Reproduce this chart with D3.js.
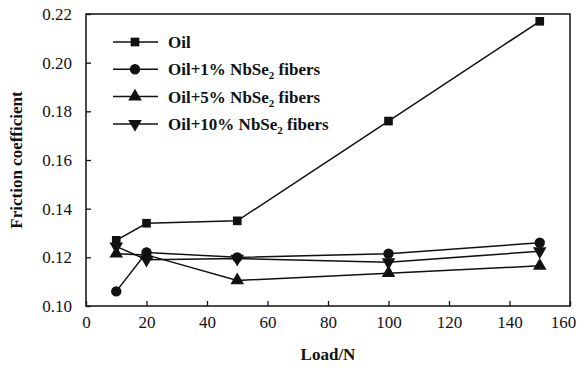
<!DOCTYPE html>
<html><head><meta charset="utf-8">
<script src="https://cdn.jsdelivr.net/npm/d3@7"></script>
<style>
@font-face{font-family:"RefSerif";font-weight:400;src:local("Liberation Serif"),local("LiberationSerif"),local("Tinos"),local("Times New Roman");}
@font-face{font-family:"RefSerif";font-weight:700;src:local("Liberation Serif Bold"),local("LiberationSerif-Bold"),local("Tinos Bold"),local("Times New Roman Bold");}
</style>
</head><body style="margin:0">
<svg id="c" width="577" height="371"></svg>
<script>
const loads = [10, 20, 50, 100, 150];
const oil = [0.127, 0.134, 0.135, 0.176, 0.217];
const oil1 = [0.106, 0.122, 0.120, 0.1215, 0.126];
const oil5 = [0.1215, 0.121, 0.1105, 0.1135, 0.1165];
const oil10 = [0.1245, 0.119, 0.1195, 0.118, 0.1225];
const seriesNames = ["Oil", "Oil+1% NbSe2 fibers", "Oil+5% NbSe2 fibers", "Oil+10% NbSe2 fibers"];
const symbols = ["square", "circle", "triangle", "triangledown"];
const xTicks = [0, 20, 40, 60, 80, 100, 120, 140, 160];
const yTicks = [0.10, 0.12, 0.14, 0.16, 0.18, 0.20, 0.22];

const series = [oil, oil1, oil5, oil10];
const svg = d3.select("#c");
const L = 86, R = 570, T = 14, B = 306;
const x = d3.scaleLinear().domain([0, 160]).range([L, R]);
const y = d3.scaleLinear().domain([0.10, 0.22]).range([B, T]);
const ink = "#111";
const FF = '"Tinos", "RefSerif", "Liberation Serif"';

svg.append("rect").attr("x", L).attr("y", T).attr("width", R - L).attr("height", B - T)
  .attr("fill", "none").attr("stroke", ink).attr("stroke-width", 1.5);

const xAxis = svg.append("g").attr("transform", `translate(0,${B})`)
  .call(d3.axisBottom(x).tickValues(xTicks).tickSizeInner(-5).tickSizeOuter(0).tickPadding(10).tickFormat(d3.format("d")));
const yAxis = svg.append("g").attr("transform", `translate(${L},0)`)
  .call(d3.axisLeft(y).tickValues(yTicks).tickSizeInner(-5).tickSizeOuter(0).tickPadding(14).tickFormat(d3.format(".2f")));
[xAxis, yAxis].forEach(g => {
  g.attr("font-family", FF).attr("font-size", 17);
  g.select(".domain").remove();
  g.selectAll(".tick line").attr("stroke", ink).attr("stroke-width", 1.3);
  g.selectAll(".tick text").attr("fill", ink).style("font-family", FF).style("font-size", "17px");
});
xAxis.selectAll(".tick text").filter(d => d === 160).attr("dx", -7);

svg.append("text").attr("x", (L + R) / 2).attr("y", 360).attr("text-anchor", "middle")
  .style("font-family", FF).style("font-size", "17px").style("font-weight", "bold").attr("fill", ink).text("Load/N");
svg.append("text").attr("transform", `translate(22,${(T + B) / 2}) rotate(-90)`).attr("text-anchor", "middle")
  .style("font-family", FF).style("font-size", "17px").style("font-weight", "bold").attr("fill", ink).text("Friction coefficient");

const symMap = {square: d3.symbolSquare, circle: d3.symbolCircle, triangle: d3.symbolTriangle, triangledown: d3.symbolTriangle};
function sym(name) {
  const size = name === "square" ? 75 : (name === "circle" ? 85 : 80);
  return d3.symbol().type(symMap[name]).size(size)();
}
const line = d3.line().x((d, i) => x(loads[i])).y(d => y(d));

series.forEach((vals, si) => {
  svg.append("path").datum(vals).attr("d", line).attr("fill", "none").attr("stroke", ink).attr("stroke-width", 1.5);
  svg.selectAll(null).data(vals).enter().append("path")
    .attr("d", sym(symbols[si]))
    .attr("transform", (d, i) => `translate(${x(loads[i])},${y(d)})${symbols[si] === "triangledown" ? " rotate(180)" : ""}`)
    .attr("fill", ink);
});

const ly0 = 42, ldy = 27.3;
seriesNames.forEach((name, i) => {
  const yy = ly0 + i * ldy;
  svg.append("line").attr("x1", 113).attr("x2", 158).attr("y1", yy).attr("y2", yy).attr("stroke", ink).attr("stroke-width", 1.5);
  svg.append("path").attr("d", sym(symbols[i]))
    .attr("transform", `translate(135,${yy})${symbols[i] === "triangledown" ? " rotate(180)" : ""}`).attr("fill", ink);
  const t = svg.append("text").attr("x", 168).attr("y", yy + 6)
    .style("font-family", FF).style("font-size", "17px").style("font-weight", "bold").attr("fill", ink);
  const m = name.match(/^(.*NbSe)2(.*)$/);
  if (m) {
    t.append("tspan").text(m[1]);
    t.append("tspan").style("font-size", "11px").attr("dy", 4).text("2");
    t.append("tspan").attr("dy", -4).text(m[2]);
  } else t.text(name);
});
</script>
</body></html>
